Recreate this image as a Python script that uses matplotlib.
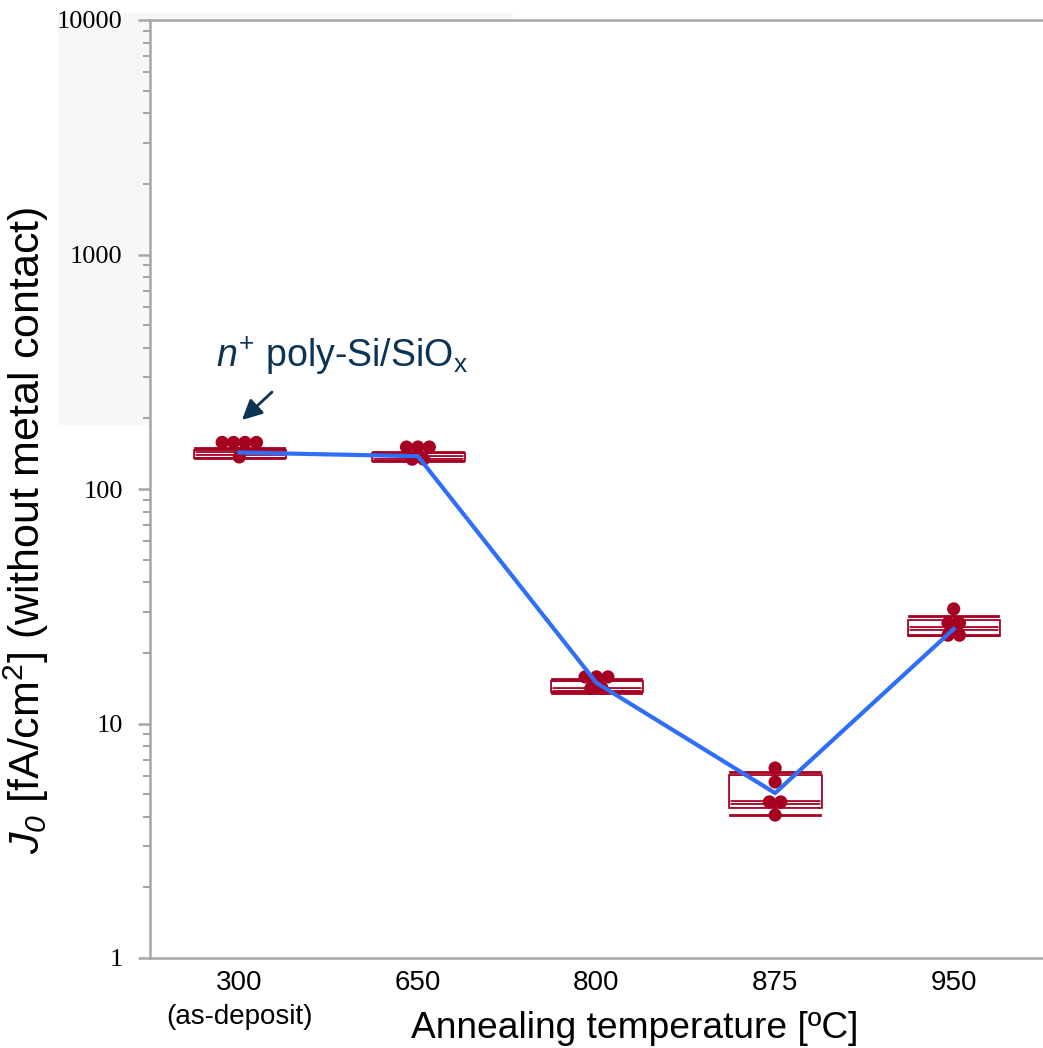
import numpy as np
import matplotlib
matplotlib.use("Agg")
import matplotlib.pyplot as plt
import matplotlib.patheffects as pe
from matplotlib.patches import Rectangle
from matplotlib.ticker import LogLocator, FixedLocator, NullFormatter, FixedFormatter

plt.rcParams['mathtext.fontset'] = 'custom'
plt.rcParams['mathtext.rm'] = 'Liberation Sans'
plt.rcParams['mathtext.it'] = 'Liberation Sans:italic'
plt.rcParams['mathtext.bf'] = 'Liberation Sans:italic'
plt.rcParams['font.family'] = ['Liberation Sans', 'DejaVu Sans']

# ---- data ----
categories = ["300\n(as-deposit)", "650", "800", "875", "950"]
points_300 = [158, 158, 158, 158, 137]
points_650 = [151, 151, 151, 134, 134]
points_800 = [15.8, 15.8, 15.8, 14.1, 14.1]
points_875 = [6.46, 5.63, 4.63, 4.63, 4.07]
points_950 = [30.8, 26.8, 26.8, 23.8, 23.8]
box_whislo = [135.2, 132.0, 13.45, 4.06, 23.9]
box_q1 = [138.7, 134.3, 13.9, 4.44, 24.0]
box_med = [142.0, 137.3, 14.1, 4.62, 25.6]
box_q3 = [145.2, 140.6, 15.1, 5.95, 27.4]
box_whishi = [149.1, 143.4, 15.5, 6.19, 28.8]
mean_line = [143, 138, 14.9, 5.05, 25.3]
y_ticks = [1, 10, 100, 1000, 10000]
y_ticklabels = ["1", "10", "100", "1000", "10000"]

all_points = [points_300, points_650, points_800, points_875, points_950]

RED = '#A50021'
BLUE = '#2F6EF6'
GRAY = '#A6A6A6'
NAVY = '#0B3354'

W, H = 1043, 1048
fig = plt.figure(figsize=(W/100, H/100), dpi=100)

# faint background panel (figure decoration, behind everything)
bg = Rectangle((58/W, 1-425/H), (513-58)/W, (425-13)/H,
               transform=fig.transFigure, facecolor='#F7F7F7',
               edgecolor='none', zorder=-10)
fig.patches.append(bg)

ax = fig.add_axes([150/W, 1-958/H, 1-150/W, (958-20)/H])
ax.set_zorder(1)
ax.set_yscale('log')
ax.set_ylim(1, 10000)
ax.set_xlim(-0.5, 4.5)

pos = np.arange(len(categories))
stats = []
for i in range(len(categories)):
    stats.append(dict(whislo=box_whislo[i], q1=box_q1[i], med=box_med[i],
                      q3=box_q3[i], whishi=box_whishi[i], fliers=[]))
double = [pe.Stroke(linewidth=3.4, foreground=RED), pe.Stroke(linewidth=0.8, foreground='white')]
bp = ax.bxp(stats, positions=pos, widths=0.5, capwidths=0.5, showfliers=False,
            patch_artist=True, manage_ticks=False,
            boxprops=dict(facecolor='white', edgecolor=RED, linewidth=1.2),
            medianprops=dict(color=RED, linewidth=1.2),
            whiskerprops=dict(color=RED, linewidth=1.4),
            capprops=dict(color=RED, linewidth=2.0))
for b in bp['boxes']:
    b.set_path_effects(double)
for m in bp['medians']:
    m.set_path_effects(double)

# simple swarm: equal values spread horizontally
spacing = 0.064
for i, vals in enumerate(all_points):
    uniq = []
    for v in vals:
        if v not in uniq:
            uniq.append(v)
    for v in uniq:
        n = vals.count(v)
        offs = (np.arange(n) - (n - 1) / 2) * spacing
        ax.scatter(pos[i] + offs, [v] * n, s=90, color=RED, edgecolor='none', zorder=4)

ax.plot(pos, mean_line, color=BLUE, lw=3, zorder=5)

# axes styling
ax.spines['right'].set_visible(False)
for side in ['left', 'bottom', 'top']:
    ax.spines[side].set_color(GRAY)
    ax.spines[side].set_linewidth(1.8)
ax.yaxis.set_major_locator(FixedLocator(y_ticks))
ax.yaxis.set_major_formatter(FixedFormatter(y_ticklabels))
ax.yaxis.set_minor_locator(LogLocator(base=10, subs=np.arange(2, 10)))
ax.yaxis.set_minor_formatter(NullFormatter())
ax.tick_params(axis='y', which='major', direction='out', length=8.6, width=1.8, color=GRAY, pad=11)
ax.tick_params(axis='y', which='minor', direction='out', length=5, width=1.5, color=GRAY)
for lab in ax.get_yticklabels():
    lab.set_fontfamily('Liberation Serif')
    lab.set_fontsize(19)
ax.set_xticks(pos)
ax.set_xticklabels(categories, fontsize=20, linespacing=1.4)
ax.tick_params(axis='x', length=0, pad=9)

fig.text(635/W, 1-1028/H, 'Annealing temperature [ºC]', fontsize=26.7, ha='center', va='center')
fig.text(26/W, 1-530/H, r'$\mathit{J}_\mathbf{0}$ [fA/cm$^\mathregular{2}$] (without metal contact)',
         fontsize=31, rotation=90, ha='center', va='center')

ax.text(-0.13, 370, r'$\mathit{n}^\mathregular{+}$ poly-Si/SiO$_\mathregular{x}$',
        fontsize=27, color=NAVY, ha='left', va='center')
ax.annotate('', xy=(0.015, 197), xytext=(0.183, 259),
            arrowprops=dict(arrowstyle='-|>,head_length=0.8,head_width=0.4', color=NAVY, lw=2,
                            mutation_scale=15, shrinkA=0, shrinkB=0))

fig.savefig('out.png', dpi=100)
